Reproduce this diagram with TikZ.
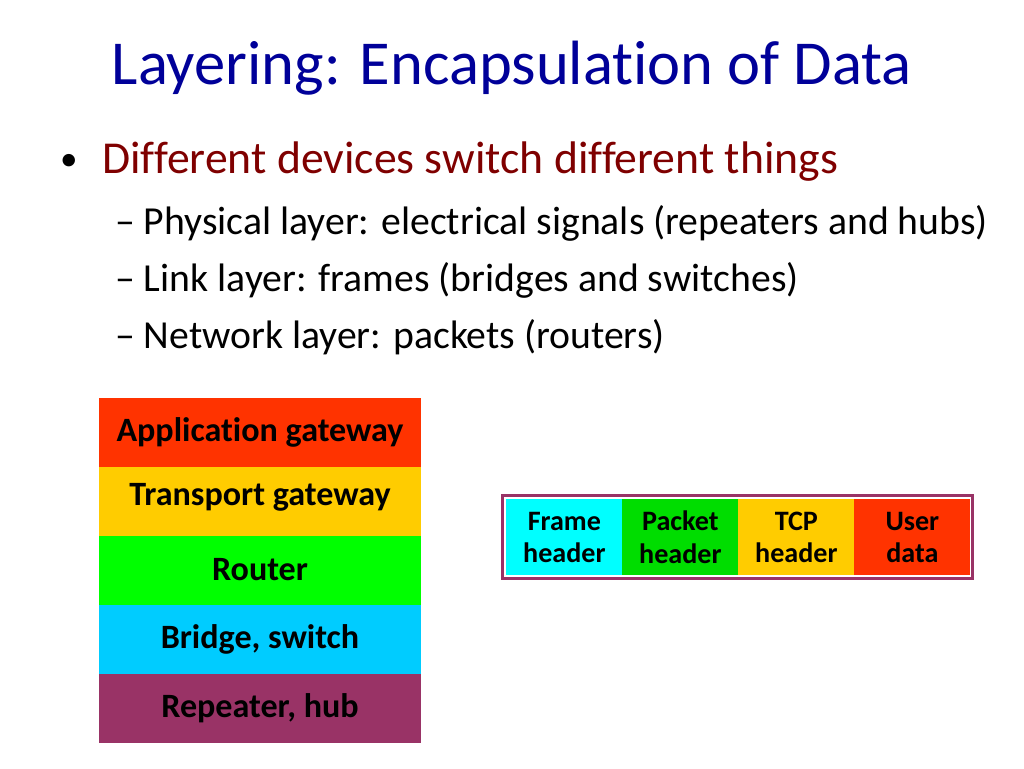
\documentclass[tikz,border=0pt]{standalone}
\usepackage{fontspec}
\setmainfont[Ligatures=NoCommon]{Carlito}
\definecolor{titleblue}{HTML}{000099}
\definecolor{bulletred}{HTML}{7F0000}
\definecolor{appred}{HTML}{FF3300}
\definecolor{transyellow}{HTML}{FFCC00}
\definecolor{routergreen}{HTML}{00FF00}
\definecolor{packetgreen}{HTML}{00DD00}
\definecolor{bridgecyan}{HTML}{00CCFF}
\definecolor{hubpurple}{HTML}{993366}
\definecolor{framecyan}{HTML}{00FFFF}
\tikzset{
  layerbox/.style={draw=none, minimum width=322*0.02cm, minimum height=69*0.02cm,
    inner sep=0pt, font=\fontsize{19.4}{22}\selectfont\bfseries},
  hdrcell/.style={minimum width=116*0.02cm, minimum height=76*0.02cm, inner sep=0pt,
    anchor=north west, align=center, font=\fontsize{16}{18.5}\selectfont\bfseries}
}
\begin{document}
\begin{tikzpicture}[x=0.02cm,y=-0.02cm]
		\useasboundingbox (0,0) rectangle (1024,768);
		
		% title and bullets
		\node[titleblue, font=\fontsize{35.6}{38}\selectfont] at (512,68) (titel) {Layering: Encapsulation of Data};
		\node[anchor=west, font=\fontsize{20}{24}\selectfont] at (54,162) (punkt) {\textbullet};
		\node[anchor=west, bulletred, font=\fontsize{26}{30}\selectfont] at (96,162) (haupt) {Different devices switch different things};
		\node[anchor=west, font=\fontsize{22.6}{26}\selectfont] at (109,223) (sub1) {-- Physical layer: electrical signals (repeaters and hubs)};
		\node[anchor=west, font=\fontsize{22.6}{26}\selectfont] at (109,280) (sub2) {-- Link layer: frames (bridges and switches)};
		\node[anchor=west, font=\fontsize{22.6}{26}\selectfont] at (109,337) (sub3) {-- Network layer: packets (routers)};
		
		% layer stack
		\node[layerbox, fill=appred] at (260,432.5) (app) {Application gateway};
		\node[layerbox, fill=transyellow] at (260,501.5) (trans) {\raisebox{8pt}{Transport gateway}};
		\node[layerbox, fill=routergreen] at (260,570) (router) {Router};
		\node[layerbox, fill=bridgecyan] at (260,639) (bridge) {Bridge, switch};
		\node[layerbox, fill=hubpurple] at (260,708) (hub) {Repeater, hub};
		
		% packet headers
		\draw[hubpurple, line width=1.7pt] (502,495) rectangle (972,578);
		\node[hdrcell, fill=framecyan] at (506,499) (frame) {Frame\\header};
		\node[hdrcell, fill=packetgreen] at (622,499) (packet) {Packet\\header};
		\node[hdrcell, fill=transyellow] at (738,499) (tcp) {TCP\\header};
		\node[hdrcell, fill=appred] at (854,499) (user) {User\\data};
		\end{tikzpicture}
\end{document}
